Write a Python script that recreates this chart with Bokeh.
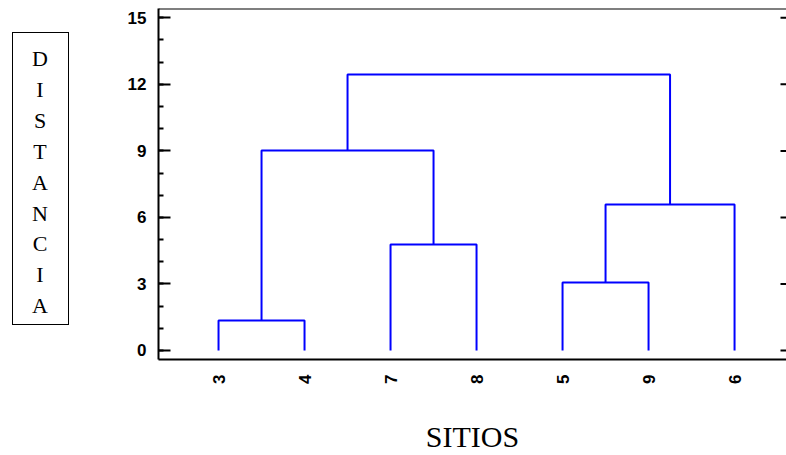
from math import pi
from bokeh.plotting import figure
from bokeh.layouts import row
from bokeh.models import Range1d, FixedTicker, Span, Div
from bokeh.embed import file_html
from bokeh.resources import INLINE

# ---- data ----
leaves = ["3", "4", "7", "8", "5", "9", "6"]
# cluster ids: 0..6 are leaves (in display order), 7.. are merges in order
merge_left = [0, 4, 2, 8, 7, 11]
merge_right = [1, 5, 3, 6, 9, 10]
merge_height = [1.35, 3.07, 4.78, 6.58, 9.02, 12.44]
y_ticks = [0, 3, 6, 9, 12, 15]
y_minor = list(range(0, 16))
y_title = "DISTANCIA"
x_title = "SITIOS"

# ---- dendrogram links ----
pos = {i: i + 1 for i in range(len(leaves))}
hgt = {i: 0.0 for i in range(len(leaves))}
xs, ys = [], []
for k, (l, r, h) in enumerate(zip(merge_left, merge_right, merge_height)):
    xs.append([pos[l], pos[l], pos[r], pos[r]])
    ys.append([hgt[l], h, h, hgt[r]])
    cid = len(leaves) + k
    pos[cid] = (pos[l] + pos[r]) / 2
    hgt[cid] = h

X0, X1 = 0.302, 7.604
Y0, Y1 = -0.406, 15.42

p = figure(width=717, height=455, output_backend="svg", toolbar_location=None,
           x_range=Range1d(X0, X1), y_range=Range1d(Y0, Y1),
           min_border_left=89, min_border_right=0, min_border_top=8,
           min_border_bottom=96)
p.outline_line_color = None
p.grid.visible = False

p.multi_line(xs, ys, line_color="#0000FF", line_width=2)

# left axis
ya = p.yaxis[0]
ya.ticker = FixedTicker(ticks=y_ticks, minor_ticks=y_minor)
ya.axis_line_width = 2
ya.major_tick_in = 12
ya.major_tick_out = 0
ya.minor_tick_in = 5
ya.minor_tick_out = 0
ya.major_tick_line_width = 2
ya.minor_tick_line_width = 2
ya.major_label_text_font = "Liberation Sans"
ya.major_label_text_font_style = "bold"
ya.major_label_text_font_size = "17px"
ya.major_label_text_color = "black"
ya.major_label_standoff = 12

# bottom axis
xa = p.xaxis[0]
xa.ticker = FixedTicker(ticks=[i + 1 for i in range(len(leaves))], minor_ticks=[])
xa.major_label_overrides = {i + 1: s for i, s in enumerate(leaves)}
xa.major_label_orientation = pi / 2
xa.axis_line_width = 2
xa.major_tick_line_color = None
xa.minor_tick_line_color = None
xa.major_tick_in = 0
xa.major_tick_out = 0
xa.major_label_text_font = "Liberation Sans"
xa.major_label_text_font_style = "bold"
xa.major_label_text_font_size = "17px"
xa.major_label_text_color = "black"
xa.major_label_standoff = 15
xa.axis_label = x_title
xa.axis_label_text_font = "Liberation Serif"
xa.axis_label_text_font_style = "normal"
xa.axis_label_text_font_size = "30px"
xa.axis_label_text_color = "black"
xa.axis_label_standoff = 33

# right-edge inward ticks (dash markers centred on the frame edge, half clipped)
p.scatter(x=[X1] * len(y_ticks), y=y_ticks, marker="dash", size=12,
          line_color="black", line_width=2)

# top line
p.add_layout(Span(location=Y1, dimension="width", line_color="black", line_width=2))

# boxed vertical title (stacked letters)
inner_style = ("display:block;width:54px;box-sizing:border-box;"
               "font-family:'Liberation Serif','Times New Roman',serif;"
               "font-size:22px;line-height:30.9px;text-align:center;color:black;"
               "padding-top:11px;")
title_div = Div(
    text='<div style="%s">%s</div>' % (inner_style, "<br>".join(list(y_title))),
    width=57, height=293, margin=(32, 0, 0, 12),
    styles={
        "border": "1.5px solid black",
        "box-sizing": "border-box",
        "background": "white",
    },
)

layout = row(title_div, p, spacing=0)
open("out.html", "w").write(file_html(layout, INLINE))
